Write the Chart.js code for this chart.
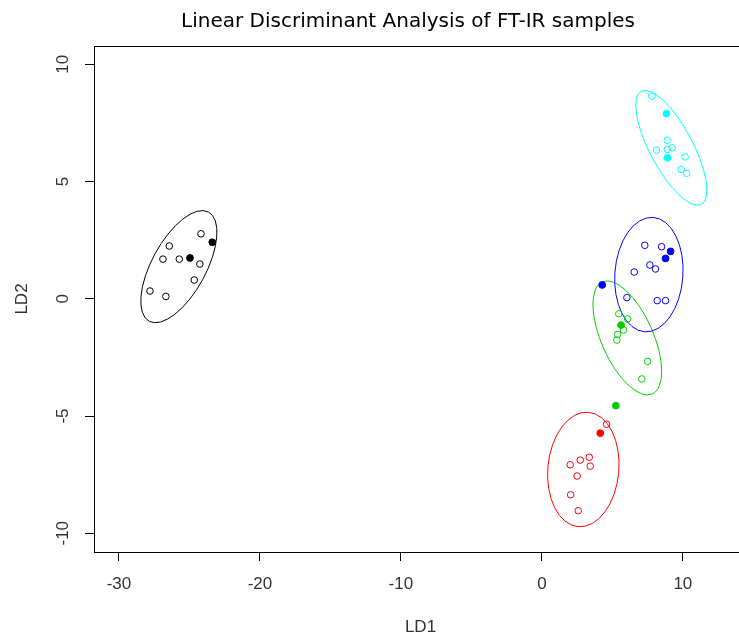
<!DOCTYPE html>
<html>
<head>
<meta charset="utf-8">
<title>LDA of FT-IR samples</title>
<script src="https://cdn.jsdelivr.net/npm/chart.js@4.4.1/dist/chart.umd.min.js"></script>
<style>
  html, body { margin: 0; padding: 0; background: #fff; overflow: hidden; }
  #wrap { width: 739px; height: 636px; overflow: hidden; }
  canvas { display: block; }
</style>
</head>
<body>
<div id="wrap"><canvas id="lda" width="800" height="636" style="width:800px;height:636px"></canvas></div>
<script>
// Scores on the two discriminant axes
// open circles = training samples, filled = the extra samples
const blackLD1 = [-24.18, -26.43, -26.88, -25.72, -24.26, -24.66, -27.80, -26.67];
const blackLD2 = [2.77, 2.25, 1.69, 1.69, 1.48, 0.80, 0.33, 0.10];
const blackNewLD1 = [-23.38, -24.96];
const blackNewLD2 = [2.41, 1.74];

const redLD1 = [4.59, 3.36, 2.72, 2.01, 3.43, 2.50, 2.04, 2.58];
const redLD2 = [-5.35, -6.76, -6.88, -7.08, -7.14, -7.56, -8.36, -9.04];
const redNewLD1 = [4.14];
const redNewLD2 = [-5.73];

const greenLD1 = [5.46, 6.08, 5.79, 5.37, 5.32, 7.50, 7.09];
const greenLD2 = [-0.64, -0.86, -1.33, -1.52, -1.76, -2.67, -3.42];
const greenNewLD1 = [5.62, 5.25];
const greenNewLD2 = [-1.12, -4.56];

const blueLD1 = [7.30, 8.49, 7.66, 8.06, 6.55, 6.03, 8.18, 8.77];
const blueLD2 = [2.28, 2.22, 1.44, 1.27, 1.14, 0.05, -0.08, -0.08];
const blueNewLD1 = [9.13, 8.77, 4.28];
const blueNewLD2 = [2.02, 1.72, 0.59];

const cyanLD1 = [7.80, 8.89, 8.13, 8.89, 9.24, 10.16, 9.88, 10.26];
const cyanLD2 = [8.64, 6.76, 6.34, 6.37, 6.44, 6.05, 5.52, 5.35];
const cyanNewLD1 = [8.84, 8.91];
const cyanNewLD2 = [7.90, 6.01];

// group ellipses: centre + two conjugate semi-axes, all in LD units
// order: black, red, green, blue, cyan
const groupColours = ['#000000', '#ff0000', '#00cd00', '#0000ff', '#00ffff'];
const ellipseLD1 = [-25.75, 2.94, 6.06, 7.59, 9.18];
const ellipseLD2 = [1.37, -7.28, -1.67, 1.03, 6.44];
const ellipseMajor = [[2.10, 2.33], [0.36, 2.44], [-1.77, 2.39], [0.29, 2.44], [-2.13, 2.41]];
const ellipseMinor = [[1.70, -0.54], [2.51, -0.13], [1.68, 0.45], [2.41, -0.10], [1.35, 0.43]];

const xTicks = [-30, -20, -10, 0, 10];
const yTicks = [-10, -5, 0, 5, 10];

function pts(xs, ys) {
    return xs.map((x, i) => ({ x: x, y: ys[i] }));
}

const openSets = [[blackLD1, blackLD2], [redLD1, redLD2], [greenLD1, greenLD2], [blueLD1, blueLD2], [cyanLD1, cyanLD2]];
const newSets = [[blackNewLD1, blackNewLD2], [redNewLD1, redNewLD2], [greenNewLD1, greenNewLD2], [blueNewLD1, blueNewLD2], [cyanNewLD1, cyanNewLD2]];

const datasets = [];
openSets.forEach((s, g) => {
    datasets.push({
        data: pts(s[0], s[1]),
        pointStyle: 'circle',
        pointRadius: 3.3,
        borderWidth: 1,
        borderColor: groupColours[g],
        backgroundColor: 'rgba(0,0,0,0)'
    });
});
newSets.forEach((s, g) => {
    datasets.push({
        data: pts(s[0], s[1]),
        pointStyle: 'circle',
        pointRadius: 3.4,
        borderWidth: 1,
        borderColor: groupColours[g],
        backgroundColor: groupColours[g]
    });
});

// ellipses go under the points
const ellipsePlugin = {
    id: 'ellipses',
    beforeDatasetsDraw(chart) {
        const { ctx, chartArea, scales: { x, y } } = chart;
        ctx.save();
        ctx.beginPath();
        ctx.rect(chartArea.left, chartArea.top, chartArea.right - chartArea.left, chartArea.bottom - chartArea.top);
        ctx.clip();
        ellipseLD1.forEach((cx, i) => {
            const cy = ellipseLD2[i];
            const px = x.getPixelForValue(cx);
            const py = y.getPixelForValue(cy);
            const ax = x.getPixelForValue(cx + ellipseMajor[i][0]) - px;
            const ay = y.getPixelForValue(cy + ellipseMajor[i][1]) - py;
            const bx = x.getPixelForValue(cx + ellipseMinor[i][0]) - px;
            const by = y.getPixelForValue(cy + ellipseMinor[i][1]) - py;
            ctx.save();
            ctx.beginPath();
            ctx.transform(ax, ay, bx, by, px, py);
            ctx.arc(0, 0, 1, 0, Math.PI * 2);
            ctx.restore();
            ctx.lineWidth = 1;
            ctx.strokeStyle = groupColours[i];
            ctx.stroke();
        });
        ctx.restore();
    }
};

// R style: full box round the plot, title on top
const framePlugin = {
    id: 'frame',
    afterDraw(chart) {
        const { ctx, chartArea } = chart;
        ctx.save();
        ctx.strokeStyle = '#000';
        ctx.lineWidth = 1;
        ctx.strokeRect(Math.round(chartArea.left) + 0.5, Math.round(chartArea.top) + 0.5,
            Math.round(chartArea.right - chartArea.left), Math.round(chartArea.bottom - chartArea.top));
        ctx.fillStyle = '#000';
        ctx.font = '20px "DejaVu Sans", Verdana, sans-serif';
        ctx.textAlign = 'center';
        ctx.textBaseline = 'alphabetic';
        ctx.fillText('Linear Discriminant Analysis of FT-IR samples', 408, 27);
        ctx.restore();
    }
};

const tickFont = { family: '"Liberation Sans", Arial, sans-serif', size: 17 };

new Chart(document.getElementById('lda'), {
    type: 'scatter',
    data: { datasets: datasets },
    options: {
        responsive: false,
        animation: false,
        devicePixelRatio: 1,
        layout: { padding: { left: 0, top: 46, right: 53, bottom: 0 } },
        plugins: {
            legend: { display: false },
            tooltip: { enabled: false },
            title: { display: false }
        },
        scales: {
            x: {
                type: 'linear',
                min: -31.77,
                max: 14.55,
                afterBuildTicks: (scale) => { scale.ticks = xTicks.map(v => ({ value: v })); },
                afterFit: (scale) => { scale.height = 84; },
                grid: { drawOnChartArea: false, drawTicks: true, tickLength: 9, tickColor: '#000', color: '#000' },
                border: { display: false },
                ticks: { font: tickFont, color: '#333', padding: 13, maxRotation: 0 },
                title: { display: true, text: 'LD1', font: tickFont, color: '#333', padding: { top: 0, bottom: -2 } }
            },
            y: {
                type: 'linear',
                min: -10.8,
                max: 10.78,
                afterBuildTicks: (scale) => { scale.ticks = yTicks.map(v => ({ value: v })); },
                afterFit: (scale) => { scale.width = 94; },
                grid: { drawOnChartArea: false, drawTicks: true, tickLength: 9, tickColor: '#000', color: '#000' },
                border: { display: false },
                ticks: { font: tickFont, color: '#333', padding: 9, minRotation: 90, maxRotation: 90, crossAlign: 'center' },
                title: { display: true, text: 'LD2', font: tickFont, color: '#333', padding: { top: 12, bottom: 0 } }
            }
        }
    },
    plugins: [ellipsePlugin, framePlugin]
});
</script>
</body>
</html>
